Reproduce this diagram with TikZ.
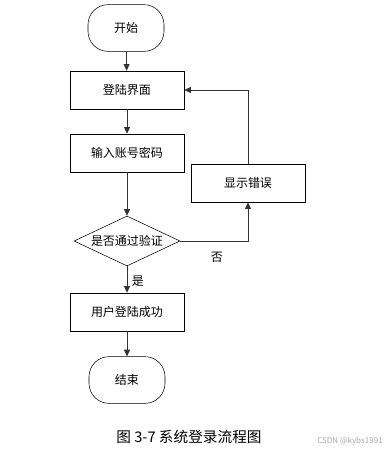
\documentclass[tikz,border=0pt]{standalone}
\usepackage{fontspec}
\setmainfont{Noto Sans CJK SC}
\usepackage{tikz}
\usetikzlibrary{positioning, arrows.meta, shapes.geometric}

\begin{document}
\begin{tikzpicture}[x=0.75pt, y=-0.75pt,
    term/.style={draw, rounded corners=15pt, minimum width=57pt, minimum height=35pt, font=\fontsize{9}{11}\selectfont},
    proc/.style={draw, minimum width=85.5pt, minimum height=28.5pt, font=\fontsize{9}{11}\selectfont},
    dec/.style={draw, diamond, inner sep=0pt, minimum width=79.5pt, minimum height=37.5pt},
    lbl/.style={font=\fontsize{9}{11}\selectfont},
    arr/.style={-{Triangle[length=5pt, width=4.5pt]}, semithick, black!80}
]
    \useasboundingbox (0,0) rectangle (386,455);
    % main column
    \node[term] (start) at (126,28) {开始};
    \node[proc] (login) at (127,90) {登陆界面};
    \node[proc] (input) at (127,153) {输入账号密码};
    \node[dec] (check) at (127,241) {};
    \node[lbl] (checktxt) at (check) {是否通过验证};
    \node[proc] (ok) at (127,312) {用户登陆成功};
    \node[term] (stop) at (127,380) {结束};
    % error branch
    \node[proc] (err) at (248,183) {显示错误};

    \draw[arr] (start) -- (login);
    \draw[arr] (login) -- (input);
    \draw[arr] (input) -- (check);
    \draw[arr] (check) -- (ok);
    \draw[arr] (ok) -- (stop);
    \draw[arr] (check.east) -| (err.south);
    \draw[arr] (err.north) |- (login.east);

    \node[lbl] (no) at (217,257) {否};
    \node[lbl] (yes) at (138,281) {是};

    \node[font=\fontsize{11}{13}\selectfont] (title) at (189,437) {图 3-7 系统登录流程图};
    \node[font=\fontsize{6}{7}\selectfont, text=black!35] (mark) at (350,441) {CSDN @kybs1991};
\end{tikzpicture}
\end{document}
